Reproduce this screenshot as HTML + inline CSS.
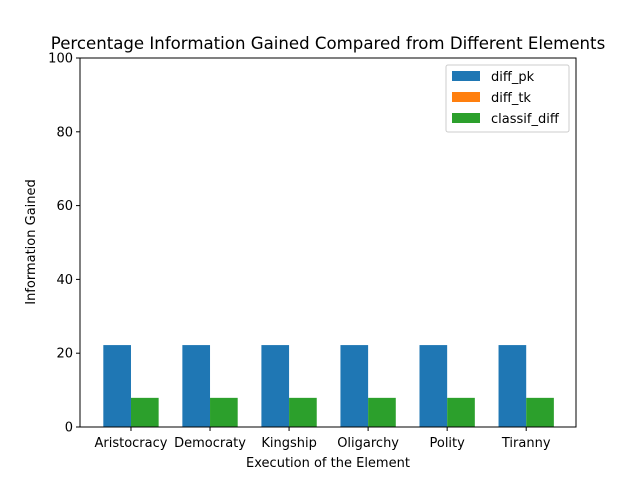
<!DOCTYPE html>
<html><head><meta charset="utf-8"><style>
body{margin:0;background:#fff;font-family:"Liberation Sans","DejaVu Sans",sans-serif;}
svg text{font-family:"DejaVu Sans","Liberation Sans",sans-serif;}
</style></head><body>
<svg id="chart" width="640" height="480" xmlns="http://www.w3.org/2000/svg">
<rect width="640" height="480" fill="#fff"/>
<text x="328" y="49" font-size="16.6" text-anchor="middle">Percentage Information Gained Compared from Different Elements</text>
<g id="plot"></g>
<rect x="80" y="58" width="496" height="369" fill="none" stroke="#000" stroke-width="1"/>
<text x="328" y="467" font-size="13" text-anchor="middle">Execution of the Element</text>
<text transform="translate(35,242) rotate(-90)" font-size="13" text-anchor="middle">Information Gained</text>
<g>
<rect x="446" y="65" width="123" height="67" fill="#fff" stroke="#ccc" rx="2"/>
<rect x="452" y="71" width="28" height="10" fill="#1f77b4"/>
<text x="491" y="81" font-size="13">diff_pk</text>
<rect x="452" y="92" width="28" height="10" fill="#ff7f0e"/>
<text x="491" y="102" font-size="13">diff_tk</text>
<rect x="452" y="113" width="28" height="10" fill="#2ca02c"/>
<text x="491" y="123" font-size="13">classif_diff</text>
</g>
</svg>
<script>
const categories=["Aristocracy","Democraty","Kingship","Oligarchy","Polity","Tiranny"];
const diffPk=[22.2,22.2,22.2,22.2,22.2,22.2];
const diffTk=[0,0,0,0,0,0];
const classifDiff=[7.9,7.9,7.9,7.9,7.9,7.9];
const yTicks=[0,20,40,60,80,100];
const ns="http://www.w3.org/2000/svg";
const g=document.getElementById("plot");
const L=80,R=576,T=58,B=427,xmin=-0.645,xmax=5.63,ymax=100,bw=0.35;
const xs=v=>L+(v-xmin)/(xmax-xmin)*(R-L);
const ys=v=>B-v/ymax*(B-T);
function mk(t,a){const e=document.createElementNS(ns,t);for(const k in a)e.setAttribute(k,a[k]);g.appendChild(e);return e;}
function bars(vals,off,color,name){vals.forEach((v,i)=>{const x0=xs(i+off),x1=xs(i+off+bw);
const r=mk("rect",{x:x0,y:ys(v),width:x1-x0,height:ys(0)-ys(v),fill:color});

});}
bars(diffPk,-bw,"#1f77b4","bar-diff-pk");
bars(diffTk,0,"#ff7f0e","bar-diff-tk");
bars(classifDiff,0,"#2ca02c","bar-classif-diff");
yTicks.forEach(t=>{const y=ys(t);mk("line",{x1:L-4,x2:L,y1:y,y2:y,stroke:"#000"});
const tx=mk("text",{x:L-7,y:y+4.5,"font-size":13,"text-anchor":"end"});tx.textContent=t;

});
categories.forEach((c,i)=>{const x=xs(i);mk("line",{x1:x,x2:x,y1:B,y2:B+4,stroke:"#000"});
const tx=mk("text",{x:x,y:B+20,"font-size":13,"text-anchor":"middle"});tx.textContent=c;

});
</script>
</body></html>
